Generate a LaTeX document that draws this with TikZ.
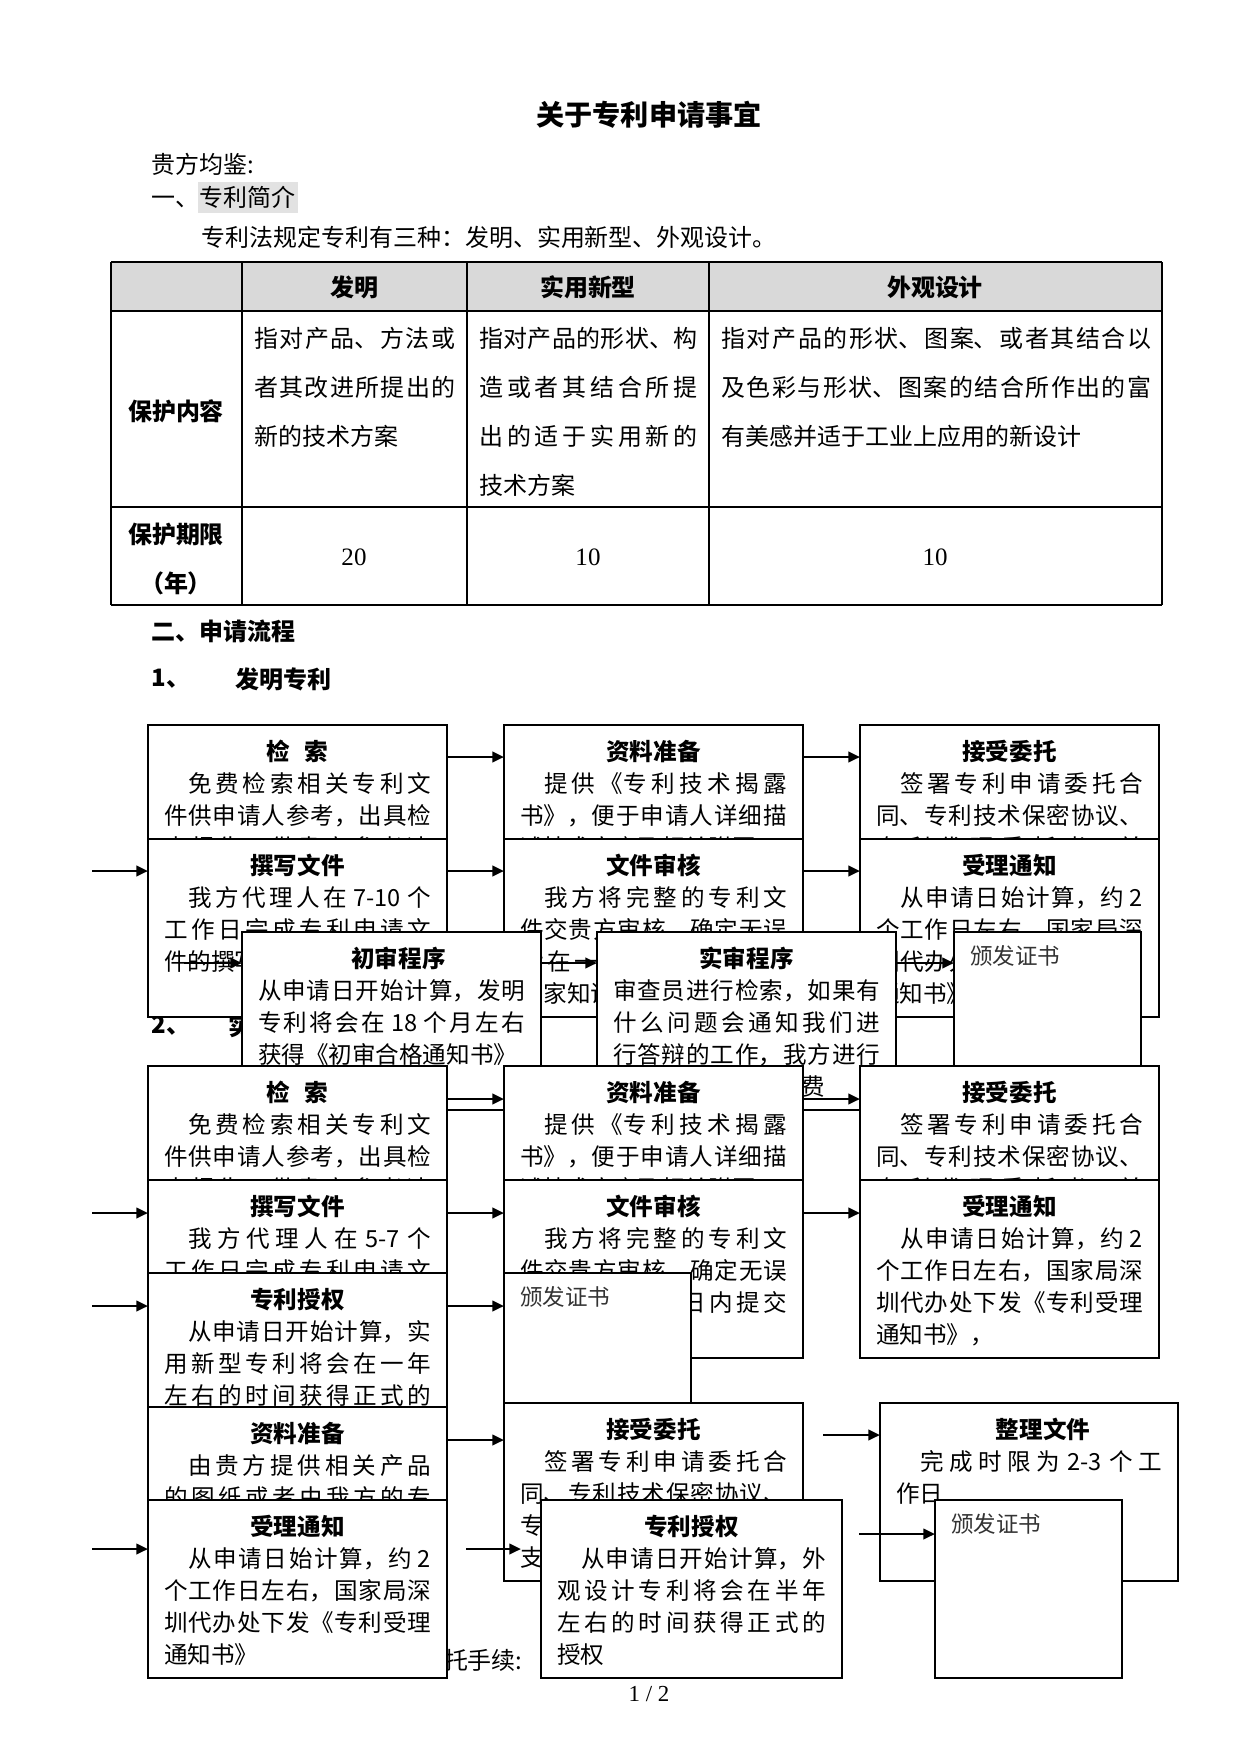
\documentclass[tikz,border=0pt]{standalone}
\usepackage{fontspec}
\setmainfont{Noto Sans CJK SC}
\newfontfamily\latinserif{Liberation Serif}
\usetikzlibrary{arrows.meta,calc}
\XeTeXlinebreaklocale "zh"
\XeTeXlinebreakskip=0pt plus 3pt
\newlength{\px}
\setlength{\px}{0.4797pt}
\definecolor{headGray}{RGB}{217,217,217}
\definecolor{markGray}{RGB}{226,226,226}
\newcommand{\boxfont}{\fontsize{11.3pt}{15.35pt}\selectfont}
\newcommand{\cellfont}{\fontsize{11.5pt}{23.5pt}\selectfont}
\newcommand{\ind}{\hspace*{24\px}}
\newcommand{\stepbody}[3][267]{\parbox[t][178\px][t]{#1\px}{\boxfont\vspace*{12.6\px}{\centering\bfseries\strut #2\par}\strut #3\par}}
\newcommand{\certbody}{\parbox[t][178\px][t]{155\px}{\boxfont\vspace*{10\px}\strut{\fontsize{10.8pt}{15.35pt}\selectfont\color{black!80}颁发证书}\par}}
\tikzset{
  stepbox/.style={draw, fill=white, line width=0.7pt, anchor=north west,
    inner xsep=7.68pt, inner ysep=0pt, outer sep=0pt},
  steparrow/.style={-{Triangle[length=5.6pt,width=5pt]}, line width=1.2pt},
  pagetext/.style={anchor=west, inner sep=0pt, font=\fontsize{11.5pt}{14pt}\selectfont},
  headtext/.style={anchor=west, inner sep=0pt, font=\fontsize{11.5pt}{14pt}\selectfont\bfseries},
  cellhead/.style={inner sep=0pt, font=\fontsize{11.5pt}{14pt}\selectfont\bfseries},
  celltext/.style={anchor=north west, inner sep=0pt},
  cellnum/.style={inner sep=0pt, font=\latinserif\fontsize{12pt}{14pt}\selectfont},
  gridline/.style={line width=0.5pt},
}

\begin{document}
\begin{tikzpicture}[x=0.4797pt, y=-0.4797pt]
  \useasboundingbox (0,0) rectangle (1241,1754);
  \fill[white] (0,0) rectangle (1241,1754);

  % page text
  \node[inner sep=0pt, font=\fontsize{13.5pt}{16pt}\selectfont\bfseries] (title) at (649,115) {关于专利申请事宜};
  \node[pagetext] (greet) at (151,164) {贵方均鉴:};
  \fill[markGray] (198,182) rectangle (298,213);
  \node[pagetext] (sec1) at (151,197) {一、专利简介};
  \node[pagetext] (intro) at (201,237) {专利法规定专利有三种：发明、实用新型、外观设计。};

  % table
  \fill[headGray] (111,262) rectangle (1162,311);
  \draw[gridline] (111,311) -- (1162,311) (111,507) -- (1162,507);
  \draw[gridline] (242,262) -- (242,605) (467,262) -- (467,605) (709,262) -- (709,605);
  \draw[line width=0.8pt] (111,262) -- (111,605) (1162,262) -- (1162,605);
  \draw[line width=1.4pt] (111,262) -- (1162,262) (111,605) -- (1162,605);
  \node[cellhead] (hfm) at (354,287) {发明};
  \node[cellhead] (hsy) at (588,287) {实用新型};
  \node[cellhead] (hwg) at (935,287) {外观设计};
  \node[cellhead] (rnr) at (176,411) {保护内容};
  \node[cellhead] (rqx) at (176,534) {保护期限};
  \node[cellhead] (rnian) at (176,583) {（年）};
  \node[celltext] (cfm) at (254,313) {\parbox[t]{201\px}{\cellfont\strut 指对产品、方法或\linebreak 者其改进所提出的\linebreak 新的技术方案\par}};
  \node[celltext] (csy) at (479,313) {\parbox[t]{218\px}{\cellfont\strut 指对产品的形状、构\linebreak 造或者其结合所提\linebreak 出的适于实用新的\linebreak 技术方案\par}};
  \node[celltext] (cwg) at (721,313) {\parbox[t]{430\px}{\cellfont\strut 指对产品的形状、图案、或者其结合以\linebreak 及色彩与形状、图案的结合所作出的富\linebreak 有美感并适于工业上应用的新设计\par}};
  \node[cellnum] (yfm) at (354,557) {20};
  \node[cellnum] (ysy) at (588,557) {10};
  \node[cellnum] (ywg) at (935,557) {10};

  % headings
  \node[headtext] (sec2) at (151,631) {二、申请流程};
  \node[headtext] (flow1no) at (151,679) {1、};
  \node[headtext] (flow1) at (235,679) {发明专利};
  \node[headtext] (flow2no) at (151,1026) {2、};
  \node[headtext] (flow2) at (228,1026) {实用新型专利};
  \node[pagetext, anchor=east] (entrust) at (523,1660) {三、办理委托手续:};
  \node[inner sep=0pt, font=\latinserif\fontsize{11pt}{13pt}\selectfont] (pageno) at (649,1694) {1 / 2};

  % flow 1: invention
  \node[stepbox] (fa1) at (148,725) {\stepbody{检\hspace{0.6em}索}{\ind 免费检索相关专利文\linebreak 件供申请人参考，出具检\linebreak 索报告，供贵方参考决策。}};
  \node[stepbox] (fa2) at (504,725) {\stepbody{资料准备}{\ind 提供《专利技术揭露\linebreak 书》，便于申请人详细描\linebreak 述技术方案及相关附图。}};
  \node[stepbox] (fa3) at (860,725) {\stepbody{接受委托}{\ind 签署专利申请委托合\linebreak 同、专利技术保密协议、\linebreak 专利代理委托书，并\linebreak 支付相关费用。}};
  \draw[steparrow] ($(fa1.north east)+(0,32)$) -- ($(fa2.north west)+(0,32)$);
  \draw[steparrow] ($(fa2.north east)+(0,32)$) -- ($(fa3.north west)+(0,32)$);

  \node[stepbox] (fb1) at (148,839) {\stepbody{撰写文件}{\ind 我方代理人在 7-10 个\linebreak 工作日完成专利申请文\linebreak 件的撰写。}};
  \node[stepbox] (fb2) at (504,839) {\stepbody{文件审核}{\ind 我方将完整的专利文\linebreak 件交贵方审核，确定无误\linebreak 后在一个工作日内提交\linebreak 国家知识产权局}};
  \node[stepbox] (fb3) at (860,839) {\stepbody{受理通知}{\ind 从申请日始计算，约 2\linebreak 个工作日左右，国家局深\linebreak 圳代办处下发《专利受理\linebreak 通知书》，}};
  \coordinate (fbin) at (92,871);
  \draw[steparrow] (fbin) -- (fbin -| fb1.west);
  \draw[steparrow] ($(fb1.north east)+(0,32)$) -- ($(fb2.north west)+(0,32)$);
  \draw[steparrow] ($(fb2.north east)+(0,32)$) -- ($(fb3.north west)+(0,32)$);

  \node[stepbox] (fc1) at (242,932) {\stepbody{\hspace*{14\px}初审程序}{从申请日开始计算，发明\linebreak 专利将会在 18 个月左右\linebreak 获得《初审合格通知书》}};
  \node[stepbox] (fc2) at (597,932) {\stepbody{实审程序}{审查员进行检索，如果有\linebreak 什么问题会通知我们进\linebreak 行答辩的工作，我方进行\linebreak 答辩并通知贵方缴费}};
  \node[stepbox] (fc3) at (954,932) {\certbody};
  \coordinate (fcin) at (184,963);
  \draw[steparrow] (fcin) -- (fcin -| fc1.west);
  \draw[steparrow] ($(fc1.north east)+(0,31)$) -- ($(fc2.north west)+(0,31)$);
  \draw[steparrow] ($(fc2.north east)+(0,31)$) -- ($(fc3.north west)+(0,31)$);

  % flow 2: utility model
  \node[stepbox] (ga1) at (148,1066) {\stepbody{检\hspace{0.6em}索}{\ind 免费检索相关专利文\linebreak 件供申请人参考，出具检\linebreak 索报告，供贵方参考决策。}};
  \node[stepbox] (ga2) at (504,1066) {\stepbody{资料准备}{\ind 提供《专利技术揭露\linebreak 书》，便于申请人详细描\linebreak 述技术方案及相关附图。}};
  \node[stepbox] (ga3) at (860,1066) {\stepbody{接受委托}{\ind 签署专利申请委托合\linebreak 同、专利技术保密协议、\linebreak 专利代理委托书，并\linebreak 支付相关费用。}};
  \draw[steparrow] ($(ga1.north east)+(0,33)$) -- ($(ga2.north west)+(0,33)$);
  \draw[steparrow] ($(ga2.north east)+(0,33)$) -- ($(ga3.north west)+(0,33)$);

  \node[stepbox] (gb1) at (148,1180) {\stepbody{撰写文件}{\ind 我方代理人在 5-7 个\linebreak 工作日完成专利申请文\linebreak 件的撰写。}};
  \node[stepbox] (gb2) at (504,1180) {\stepbody{文件审核}{\ind 我方将完整的专利文\linebreak 件交贵方审核，确定无误\linebreak 后在一个工作日内提交\linebreak 国家知识产权局}};
  \node[stepbox] (gb3) at (860,1180) {\stepbody{受理通知}{\ind 从申请日始计算，约 2\linebreak 个工作日左右，国家局深\linebreak 圳代办处下发《专利受理\linebreak 通知书》，}};
  \coordinate (gbin) at (92,1213);
  \draw[steparrow] (gbin) -- (gbin -| gb1.west);
  \draw[steparrow] ($(gb1.north east)+(0,33)$) -- ($(gb2.north west)+(0,33)$);
  \draw[steparrow] ($(gb2.north east)+(0,33)$) -- ($(gb3.north west)+(0,33)$);

  \node[stepbox] (gc1) at (148,1273) {\stepbody{专利授权}{\ind 从申请日开始计算，实\linebreak 用新型专利将会在一年\linebreak 左右的时间获得正式的\linebreak 授权}};
  \node[stepbox] (gc2) at (504,1273) {\certbody};
  \coordinate (gcin) at (92,1306);
  \draw[steparrow] (gcin) -- (gcin -| gc1.west);
  \draw[steparrow] ($(gc1.north east)+(0,33)$) -- ($(gc2.north west)+(0,33)$);

  % flow 3: design
  \node[stepbox] (ha1) at (148,1407) {\stepbody{资料准备}{\ind 由贵方提供相关产品\linebreak 的图纸或者由我方的专\linebreak 业人员绘制图纸}};
  \node[stepbox] (ha2) at (504,1403) {\stepbody{接受委托}{\ind 签署专利申请委托合\linebreak 同、专利技术保密协议、\linebreak 专利代理委托书，并\linebreak 支付相关费用。}};
  \node[stepbox] (ha3) at (880,1403) {\stepbody[266]{\hspace*{28\px}整理文件}{\ind 完成时限为 2-3 个工\linebreak 作日}};
  \coordinate (hay) at ($(ha1.north east)+(0,33)$);
  \draw[steparrow] (hay) -- (hay -| ha2.west);
  \coordinate (hain) at (823,1435);
  \draw[steparrow] (hain) -- (hain -| ha3.west);

  \node[stepbox] (hb1) at (148,1500) {\stepbody{受理通知}{\ind 从申请日始计算，约 2\linebreak 个工作日左右，国家局深\linebreak 圳代办处下发《专利受理\linebreak 通知书》}};
  \node[stepbox] (hb2) at (541,1500) {\stepbody[269]{专利授权}{\ind 从申请日开始计算，外\linebreak 观设计专利将会在半年\linebreak 左右的时间获得正式的\linebreak 授权}};
  \node[stepbox] (hb3) at (935,1500) {\certbody};
  \coordinate (hbin) at (92,1549);
  \draw[steparrow] (hbin) -- (hbin -| hb1.west);
  \coordinate (hbfrom) at (466,1549);
  \coordinate (hbto) at (521,1549);
  \draw[steparrow] (hbfrom) -- (hbto);
  \coordinate (hbcert) at (859,1534);
  \draw[steparrow] (hbcert) -- (hbcert -| hb3.west);
\end{tikzpicture}
\end{document}
